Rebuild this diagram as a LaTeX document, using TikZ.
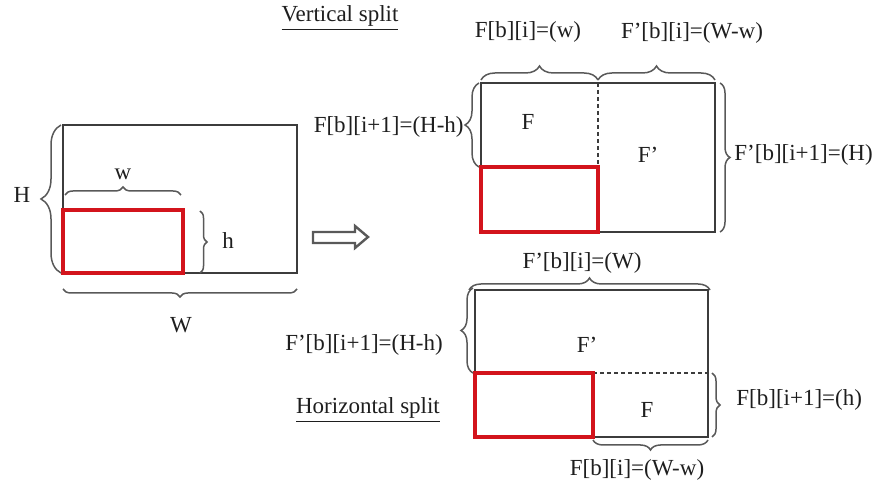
\documentclass[tikz,border=0pt]{standalone}
\usepackage{fontspec}
\setmainfont{Liberation Serif}
\usepackage{xcolor}
\usetikzlibrary{decorations.pathreplacing}
\definecolor{bincolor}{HTML}{3C3C3C}
\definecolor{itemcolor}{HTML}{D3141C}
\definecolor{txtcolor}{HTML}{1E1E1E}

\begin{document}
\begin{tikzpicture}[
    x=0.5pt, y=-0.5pt,
    bin/.style={draw=bincolor, line width=1.1pt},
    item/.style={draw=itemcolor, line width=2.2pt},
    cut/.style={draw=bincolor, line width=0.9pt, dash pattern=on 2pt off 1.5pt},
    brc/.style={draw=bincolor!85, line width=0.75pt, decorate, decoration={brace, amplitude=#1}},
    brc/.default=5pt,
    lbl/.style={font=\fontsize{11.5}{13}\selectfont, text=txtcolor, inner sep=1pt},
    arw/.style={draw=bincolor!85, line width=1.2pt, fill=white}
]
\useasboundingbox (0,0) rectangle (877,490);

% -- LEFT: ORIGINAL BIN --
\coordinate (a-nw) at (63,125);
\coordinate (a-se) at (297,273);
\coordinate (a-i-nw) at (63,210);
\coordinate (a-i-se) at (183,273);
\draw[bin] (a-nw) rectangle (a-se);
\draw[item] (a-i-nw) rectangle (a-i-se);

\draw[brc=10pt] (61,273) -- (61,125);
\node[lbl] (lH) at (22,195) {H};
\draw[brc=4pt] (65,195) -- (181,195);
\node[lbl] (lw) at (123,174) {w};
\draw[brc=3.5pt] (200,211) -- (200,273);
\node[lbl] (lh) at (228,241) {h};
\draw[brc=4pt] (297,289) -- (63,289);
\node[lbl] (lW) at (181,325) {W};

% -- ARROW --
\draw[arw] (313,232) -- (355,232) -- (355,226) -- (368,237)
    -- (355,248) -- (355,243) -- (313,243) -- cycle;

% -- TOP: VERTICAL SPLIT --
\node[lbl] (vtitle) at (340,18) {\underline{Vertical split}};
\coordinate (b-nw) at (481,83);
\coordinate (b-se) at (715,232);
\coordinate (b-i-nw) at (481,167);
\coordinate (b-i-se) at (598,232);
\draw[bin] (b-nw) rectangle (b-se);
\draw[cut] (598,83) -- (b-i-se |- b-i-nw);
\draw[item] (b-i-nw) rectangle (b-i-se);
\node[lbl] (vF) at (528,122) {F};
\node[lbl] (vFp) at (648,155) {F’};

\draw[brc=7pt] (481,80) -- (598,80);
\node[lbl] (vwi) at (528,32) {F[b][i]=(w)};
\draw[brc=7pt] (598,80) -- (715,80);
\node[lbl] (vWi) at (692,33) {F’[b][i]=(W-w)};
\draw[brc=7pt] (479,167) -- (479,83);
\node[lbl, anchor=east] (vHh) at (466,127) {F[b][i+1]=(H-h)};
\draw[brc=5pt] (720,83) -- (720,232);
\node[lbl, anchor=west] (vH) at (732,155) {F’[b][i+1]=(H)};

% -- BOTTOM: HORIZONTAL SPLIT --
\node[lbl] (htitle) at (368,410) {\underline{Horizontal split}};
\coordinate (c-nw) at (475,290);
\coordinate (c-se) at (708,437);
\coordinate (c-i-nw) at (475,373);
\coordinate (c-i-se) at (593,437);
\draw[bin] (c-nw) rectangle (c-se);
\draw[cut] (c-i-se |- c-i-nw) -- (708,373);
\draw[item] (c-i-nw) rectangle (c-i-se);
\node[lbl] (hFp) at (587,345) {F’};
\node[lbl] (hF) at (647,410) {F};

\draw[brc=6pt] (469,290) -- (710,290);
\node[lbl] (hWi) at (582,263) {F’[b][i]=(W)};
\draw[brc=6pt] (473,373) -- (473,288);
\node[lbl] (hHh) at (364,345) {F’[b][i+1]=(H-h)};
\draw[brc=4pt] (712,373) -- (712,437);
\node[lbl, anchor=west] (hh) at (734,400) {F[b][i+1]=(h)};
\draw[brc=5pt] (708,440) -- (593,440);
\node[lbl] (hwi) at (637,470) {F[b][i]=(W-w)};

\end{tikzpicture}
\end{document}
